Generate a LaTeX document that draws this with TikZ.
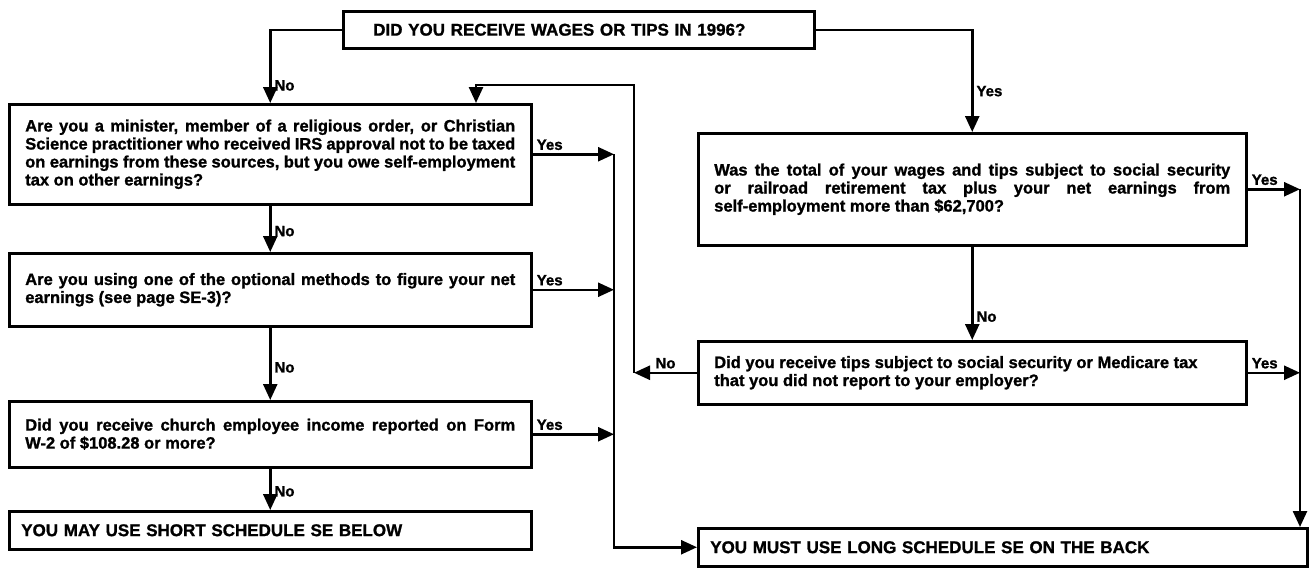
\documentclass[tikz,border=0pt]{standalone}
\usepackage{fontspec}
\setmainfont{Liberation Sans}
\newfontfamily\formfont{Liberation Sans Bold}[FakeBold=1.2]
\usetikzlibrary{arrows.meta}

\tikzset{
  qbox/.style={draw, line width=2.5pt, anchor=north west, align=justify,
    inner xsep=16pt, inner ysep=4pt, font=\fontsize{16.5}{18}\selectfont\formfont},
  capbox/.style={draw, line width=2.5pt, anchor=north west, align=left,
    inner xsep=12pt, font=\fontsize{17}{19}\selectfont\formfont},
  arr/.style={line width=2.5pt, -{Triangle[length=16pt,width=14pt]}},
  lbl/.style={font=\fontsize{15}{17}\selectfont\formfont, inner sep=3pt},
}

\begin{document}
\begin{tikzpicture}[x=1pt,y=-1pt]
  \useasboundingbox (0,0) rectangle (1312,570);

  % question boxes
  \node[capbox, text width=411pt, inner xsep=30pt, minimum height=37pt] (wages) at (342,10)
    {DID YOU RECEIVE WAGES OR TIPS IN 1996?};
  \node[qbox, text width=490pt, minimum height=100pt] (minister) at (8,103)
    {Are you a minister, member of a religious order, or Christian\linebreak
     Science practitioner who received IRS approval not to be taxed\linebreak
     on earnings from these sources, but you owe self-employment\linebreak
     tax on other earnings?};
  \node[qbox, text width=490pt, minimum height=73pt] (optional) at (8,252)
    {Are you using one of the optional methods to figure your net\linebreak
     earnings (see page SE-3)?};
  \node[qbox, text width=490pt, minimum height=66pt] (church) at (8,400)
    {Did you receive church employee income reported on Form\linebreak
     W-2 of \$108.28 or more?};
  \node[capbox, text width=498pt, minimum height=38pt] (short) at (8,510)
    {YOU MAY USE SHORT SCHEDULE SE BELOW};
  \node[qbox, text width=516pt, minimum height=112pt] (total) at (697,132)
    {Was the total of your wages and tips subject to social security\linebreak
     or railroad retirement tax plus your net earnings from\linebreak
     self-employment more than \$62,700?};
  \node[qbox, text width=516pt, minimum height=63pt] (tips) at (697,340)
    {Did you receive tips subject to social security or Medicare tax\\
     that you did not report to your employer?};
  \node[capbox, text width=585pt, minimum height=38pt] (long) at (697,527)
    {YOU MUST USE LONG SCHEDULE SE ON THE BACK};

  \coordinate (colL) at (614,0);
  \coordinate (colR) at (1300,0);
  \coordinate (loopx) at (634,0);
  \coordinate (loopy) at (0,85);
  \coordinate (loopin) at (476,0);

  % first question
  \draw[arr] (wages.west) -| node[lbl, right, pos=0.88]{No} (minister.north);
  \draw[arr] (wages.east) -| node[lbl, right, pos=0.8]{Yes} (total.north);

  % left column
  \draw[arr] (minister.south) -- node[lbl, right, pos=0.55]{No} (optional.north);
  \draw[arr] (optional.south) -- node[lbl, right, pos=0.55]{No} (church.north);
  \draw[arr] (church.south) -- node[lbl, right, pos=0.55]{No} (short.north);
  \foreach \q in {minister, optional, church}
    \draw[arr] (\q.east) -- node[lbl, above right, pos=0]{Yes} (\q.east -| colL);
  \draw[arr] (minister.east -| colL) |- (long.west);

  % right column
  \draw[arr] (total.south) -- node[lbl, right, pos=0.75]{No} (tips.north);
  \foreach \q in {total, tips}
    \draw[arr] (\q.east) -- node[lbl, above right, pos=0]{Yes} (\q.east -| colR);
  \draw[arr] (total.east -| colR) -- (colR |- long.north);

  % back to the minister question
  \draw[arr] (tips.west) -- node[lbl, above]{No} (tips.west -| loopx);
  \draw[arr] (tips.west -| loopx) -- (loopx |- loopy) -| (loopin |- minister.north);
\end{tikzpicture}
\end{document}
